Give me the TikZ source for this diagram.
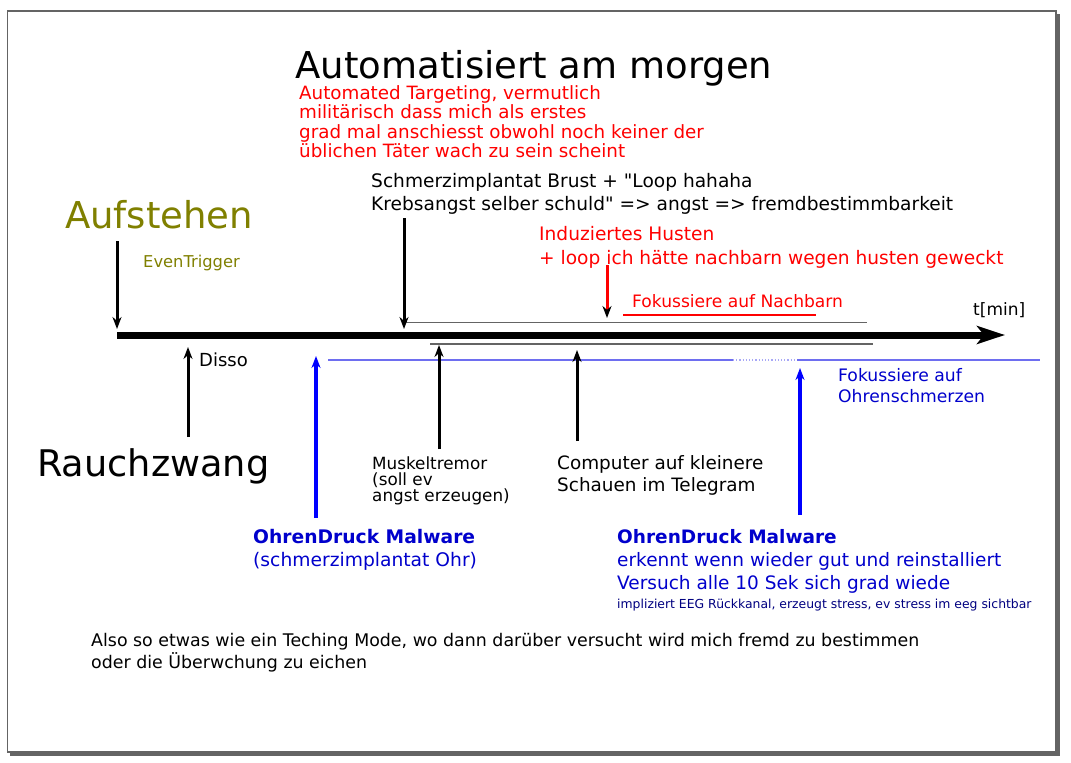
\documentclass[tikz,border=0pt]{standalone}
\usepackage{fontspec}
\setmainfont{DejaVu Sans}
\usetikzlibrary{arrows.meta}
\definecolor{olivtxt}{RGB}{128,128,0}
\definecolor{blautxt}{RGB}{0,0,204}
\definecolor{navytxt}{RGB}{0,0,128}
\definecolor{blaulinie}{RGB}{110,110,240}
\definecolor{rahmen}{RGB}{100,100,100}
\newcommand{\fs}[2]{\fontsize{#1}{#2}\selectfont}
\begin{document}
\begin{tikzpicture}[x=1pt, y=-1pt,
  lbl/.style={inner sep=0pt, anchor=base west, align=left},
  pf/.style={line width=3pt, -{Stealth[length=12pt, width=9pt]}},
  bpf/.style={pf, blue, line width=3.5pt},
  duenn/.style={line width=1.3pt, rahmen}]
\useasboundingbox (0,0) rectangle (1071,763);
% Blatt mit Schatten
\fill[rahmen] (1055.5,14) rectangle (1059.5,756);
\fill[rahmen] (10,751.5) rectangle (1059.5,756);
\draw[line width=1.2pt, rahmen, fill=white] (7.3,11) rectangle (1056,752);

% Texte (Basislinie der letzten Zeile)
\node[inner sep=0pt, anchor=base, font=\fs{37}{40}] (titel) at (534,78) {Automatisiert am morgen};
\node[lbl, red, font=\fs{18.3}{19.4}] (targeting) at (299,157.7) {Automated Targeting, vermutlich\\
  militärisch dass mich als erstes\\ grad mal anschiesst obwohl noch keiner der\\
  üblichen Täter wach zu sein scheint};
\node[lbl, olivtxt, font=\fs{37}{40}] (aufstehen) at (65,228) {Aufstehen};
\node[lbl, olivtxt, font=\fs{16.3}{18}] (eventrig) at (143,267) {EvenTrigger};
\node[lbl, font=\fs{18.6}{23}] (schmerz) at (371,210) {Schmerzimplantat Brust + \textquotedbl Loop hahaha\\
  Krebsangst selber schuld\textquotedbl{} => angst => fremdbestimmbarkeit};
\node[lbl, red, font=\fs{18.6}{24}] (husten) at (539,264) {Induziertes Husten\\
  + loop ich hätte nachbarn wegen husten geweckt};
\node[lbl, red, font=\fs{17.1}{19}] (nachbarn) at (632,307) {Fokussiere auf Nachbarn};
\node[lbl, font=\fs{17}{19}] (tmin) at (973,315.5) {t[min]};
\node[lbl, font=\fs{18}{20}] (disso) at (199,366) {Disso};
\node[lbl, blautxt, font=\fs{17.2}{21.5}] (ohrfokus) at (838,402.5) {Fokussiere auf\\ Ohrenschmerzen};
\node[lbl, font=\fs{36.7}{40}] (rauch) at (37,476) {Rauchzwang};
\node[lbl, font=\fs{16.8}{16}] (muskel) at (372,501) {Muskeltremor\\ (soll ev\\ angst erzeugen)};
\node[lbl, font=\fs{18.4}{22}] (computer) at (557,491) {Computer auf kleinere\\ Schauen im Telegram};
\node[lbl, blautxt, font=\fs{18.7}{23}] (ohrL) at (253,566) {\textbf{OhrenDruck Malware}\\ (schmerzimplantat Ohr)};
\node[lbl, blautxt, font=\fs{18.5}{23}] (ohrR) at (617,589) {\textbf{OhrenDruck Malware}\\
  erkennt wenn wieder gut und reinstalliert\\ Versuch alle 10 Sek sich grad wiede};
\node[lbl, navytxt, font=\fs{12.4}{14}] (eeg) at (617,608) {impliziert EEG Rückkanal, erzeugt stress, ev stress im eeg sichtbar};
\node[lbl, font=\fs{17.4}{22}] (fazit) at (91,668) {Also so etwas wie ein Teching Mode, wo dann darüber versucht wird mich fremd zu bestimmen\\
  oder die Überwchung zu eichen};

% Zeitachse und Begleitlinien
\coordinate (t0) at (117,335);
\coordinate (t1) at (1005,335);
\draw[line width=7pt, -{Stealth[length=28pt, width=18pt, inset=7pt]}] (t0) -- (t1);
\draw[duenn] (404,322.7) -- (867,322.7);
\draw[duenn] (430,344) -- (873,344);
\draw[red, line width=1.2pt] (623,315) -- (816,315);
\draw[blaulinie, line width=1.2pt] (328,360) -- (733,360);
\draw[blaulinie!60, line width=1.2pt, dotted] (733,360) -- (797,360);
\draw[blaulinie, line width=1.2pt] (797,360) -- (1040,360);

% Pfeile von oben
\coordinate (aufA) at (117,241); \coordinate (aufB) at (117,329);
\coordinate (schA) at (404,218); \coordinate (schB) at (404,329);
\coordinate (husA) at (607,265); \coordinate (husB) at (607,318);
\draw[pf] (aufA) -- (aufB);
\draw[pf] (schA) -- (schB);
\draw[pf, red, -{Stealth[length=12pt, width=9pt, black]}] (husA) -- (husB);
% Pfeile von unten
\coordinate (disA) at (188,437); \coordinate (disB) at (188,347);
\coordinate (musA) at (439,449); \coordinate (musB) at (439,345);
\coordinate (comA) at (577,441); \coordinate (comB) at (577,350);
\coordinate (olA) at (316,518); \coordinate (olB) at (316,356);
\coordinate (orA) at (800,515); \coordinate (orB) at (800,368);
\draw[pf] (disA) -- (disB);
\draw[pf] (musA) -- (musB);
\draw[pf] (comA) -- (comB);
\draw[bpf] (olA) -- (olB);
\draw[bpf] (orA) -- (orB);
\end{tikzpicture}
\end{document}
